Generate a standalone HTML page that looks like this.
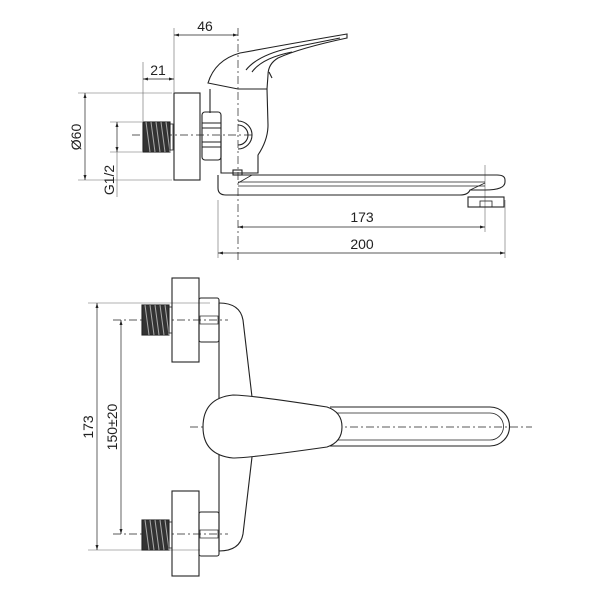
<!DOCTYPE html>
<html><head><meta charset="utf-8"><style>
html,body{margin:0;padding:0;background:#fff;}
svg{display:block}
text{font-family:"Liberation Sans",sans-serif;font-size:14px;fill:#222}
</style></head><body>
<svg width="600" height="600" viewBox="0 0 600 600" xmlns="http://www.w3.org/2000/svg">
<defs>
<marker id="a" viewBox="0 0 10 10" refX="10" refY="5" markerWidth="9" markerHeight="5" orient="auto-start-reverse" markerUnits="userSpaceOnUse"><path d="M0,2 L10,5 L0,8 Z" fill="#222"/></marker>
<g id="thr"><rect x="0" y="0" width="27" height="30" fill="#333"/><path d="M3,0 L7,30 M8,0 L12,30 M13,0 L17,30 M18,0 L22,30 M23,0 L27,30" stroke="#aaa" stroke-width="1"/><rect x="27" y="2" width="3" height="26" fill="none" stroke="#222" stroke-width="0.8"/></g>
</defs>
<g fill="none" stroke="#222" stroke-width="1.1">
<g stroke="#666" stroke-width="0.6">
<line x1="174" y1="28" x2="174" y2="92"/>
<line x1="143" y1="62" x2="143" y2="121"/>
<line x1="78" y1="93" x2="172" y2="93"/>
<line x1="78" y1="180" x2="172" y2="180"/>
<line x1="110" y1="122" x2="142" y2="122"/>
<line x1="110" y1="152" x2="142" y2="152"/>
<line x1="117" y1="152" x2="117" y2="197"/>
<line x1="485" y1="165" x2="485" y2="232"/>
<line x1="505" y1="200" x2="505" y2="258"/>
<line x1="218" y1="200" x2="218" y2="258"/>
</g>
<g stroke="#222" stroke-width="0.7">
<line x1="174" y1="35" x2="238" y2="35" marker-start="url(#a)" marker-end="url(#a)"/>
<line x1="143" y1="79" x2="174" y2="79" marker-start="url(#a)" marker-end="url(#a)"/>
<line x1="85" y1="93" x2="85" y2="180" marker-start="url(#a)" marker-end="url(#a)"/>
<line x1="117" y1="122" x2="117" y2="152" marker-start="url(#a)" marker-end="url(#a)"/>
<line x1="238" y1="227" x2="485" y2="227" marker-start="url(#a)" marker-end="url(#a)"/>
<line x1="218" y1="253" x2="505" y2="253" marker-start="url(#a)" marker-end="url(#a)"/>
</g>
<line x1="238" y1="28" x2="238" y2="262" stroke-width="0.7" stroke-dasharray="8,3,2,3"/>
<line x1="132" y1="135" x2="252" y2="135" stroke-width="0.7" stroke-dasharray="8,3,2,3"/>
<use href="#thr" x="143" y="122"/>
<rect x="174" y="93" width="26" height="87"/>
<path d="M210,89 L210,113 M221,135 L221,173 L258,173 L258,155 Q268,140 268,125 L267,89"/>
<path d="M238,121 A14,14 0 0 1 238,149 M238,125 A10,10 0 0 1 238,145"/>
<rect x="202" y="112" width="19" height="48" rx="3"/>
<line x1="202" y1="123" x2="221" y2="123"/><line x1="202" y1="128" x2="221" y2="128"/>
<line x1="202" y1="142" x2="221" y2="142"/><line x1="202" y1="147" x2="221" y2="147"/>
<path d="M208,83 Q215,60 240,53 Q300,42 347,34 L347,38 Q300,48 278,58 Q268,64 268,75 L267,89 L238,89 Z"/>
<path d="M246,70 Q258,55 290,48 L340,38 M252,72 Q262,58 292,52"/>
<path d="M269,72 L272,78" />
<path d="M218,175 L218,188 Q218,195 226,195 L460,195 Q468,195 470,190 L485,190 Q505,190 505,182 L505,180 Q505,175 497,175 L233,175"/>
<line x1="238" y1="182" x2="485" y2="182" stroke-width="0.8"/>
<line x1="238" y1="186" x2="485" y2="186" stroke-width="0.8"/>
<line x1="238" y1="183" x2="252" y2="175" stroke-width="0.8"/>
<line x1="470" y1="190" x2="485" y2="183" stroke-width="0.8"/>
<rect x="233" y="170" width="9" height="5"/>
<rect x="468" y="197" width="36" height="10"/>
<rect x="480" y="201" width="12" height="6" stroke-width="0.8"/>

<g stroke="#666" stroke-width="0.6">
<line x1="88" y1="303" x2="210" y2="303"/>
<line x1="88" y1="550" x2="200" y2="550"/>
</g>
<g stroke="#222" stroke-width="0.7">
<line x1="97" y1="303" x2="97" y2="550" marker-start="url(#a)" marker-end="url(#a)"/>
<line x1="121" y1="320" x2="121" y2="534" marker-start="url(#a)" marker-end="url(#a)"/>
</g>
<line x1="113" y1="320" x2="228" y2="320" stroke-width="0.7" stroke-dasharray="8,3,2,3"/>
<line x1="113" y1="534" x2="228" y2="534" stroke-width="0.7" stroke-dasharray="8,3,2,3"/>
<line x1="190" y1="427" x2="532" y2="427" stroke-width="0.7" stroke-dasharray="8,3,2,3"/>
<use href="#thr" x="142" y="305"/>
<use href="#thr" x="142" y="520"/>
<rect x="172" y="278" width="27" height="84"/>
<rect x="172" y="491" width="27" height="85"/>
<rect x="199" y="298" width="20" height="44" rx="2"/>
<rect x="199" y="512" width="20" height="44" rx="2"/>
<rect x="200" y="316" width="18" height="8" stroke-width="0.7"/>
<rect x="200" y="530" width="18" height="8" stroke-width="0.7"/>
<path d="M219,303 Q240,303 243,320 L252,397"/>
<path d="M219,551 Q240,551 243,534 L252,457"/>
<line x1="219" y1="303" x2="219" y2="400"/>
<line x1="219" y1="455" x2="219" y2="551"/>
<path d="M330,407 L490,407 A19.5,19.5 0 0 1 490,446 L330,446"/>
<path d="M335,413 L490,413 A13.5,13.5 0 0 1 490,440 L335,440" stroke-width="0.8"/>
<path d="M233,395 Q250,395 327,407 Q342,412 342,427 Q342,442 327,447 Q250,458 233,458 Q203,455 203,427 Q203,398 233,395 Z" fill="#fff"/>
</g>
<text x="205" y="31" text-anchor="middle">46</text>
<text x="158" y="75" text-anchor="middle">21</text>
<text x="362" y="222" text-anchor="middle">173</text>
<text x="362" y="249" text-anchor="middle">200</text>
<text transform="translate(81,137) rotate(-90)" text-anchor="middle">Ø60</text>
<text transform="translate(114,180) rotate(-90)" text-anchor="middle">G1/2</text>
<text transform="translate(93,427) rotate(-90)" text-anchor="middle">173</text>
<text transform="translate(117,427) rotate(-90)" text-anchor="middle">150±20</text>
</svg>
</body></html>
